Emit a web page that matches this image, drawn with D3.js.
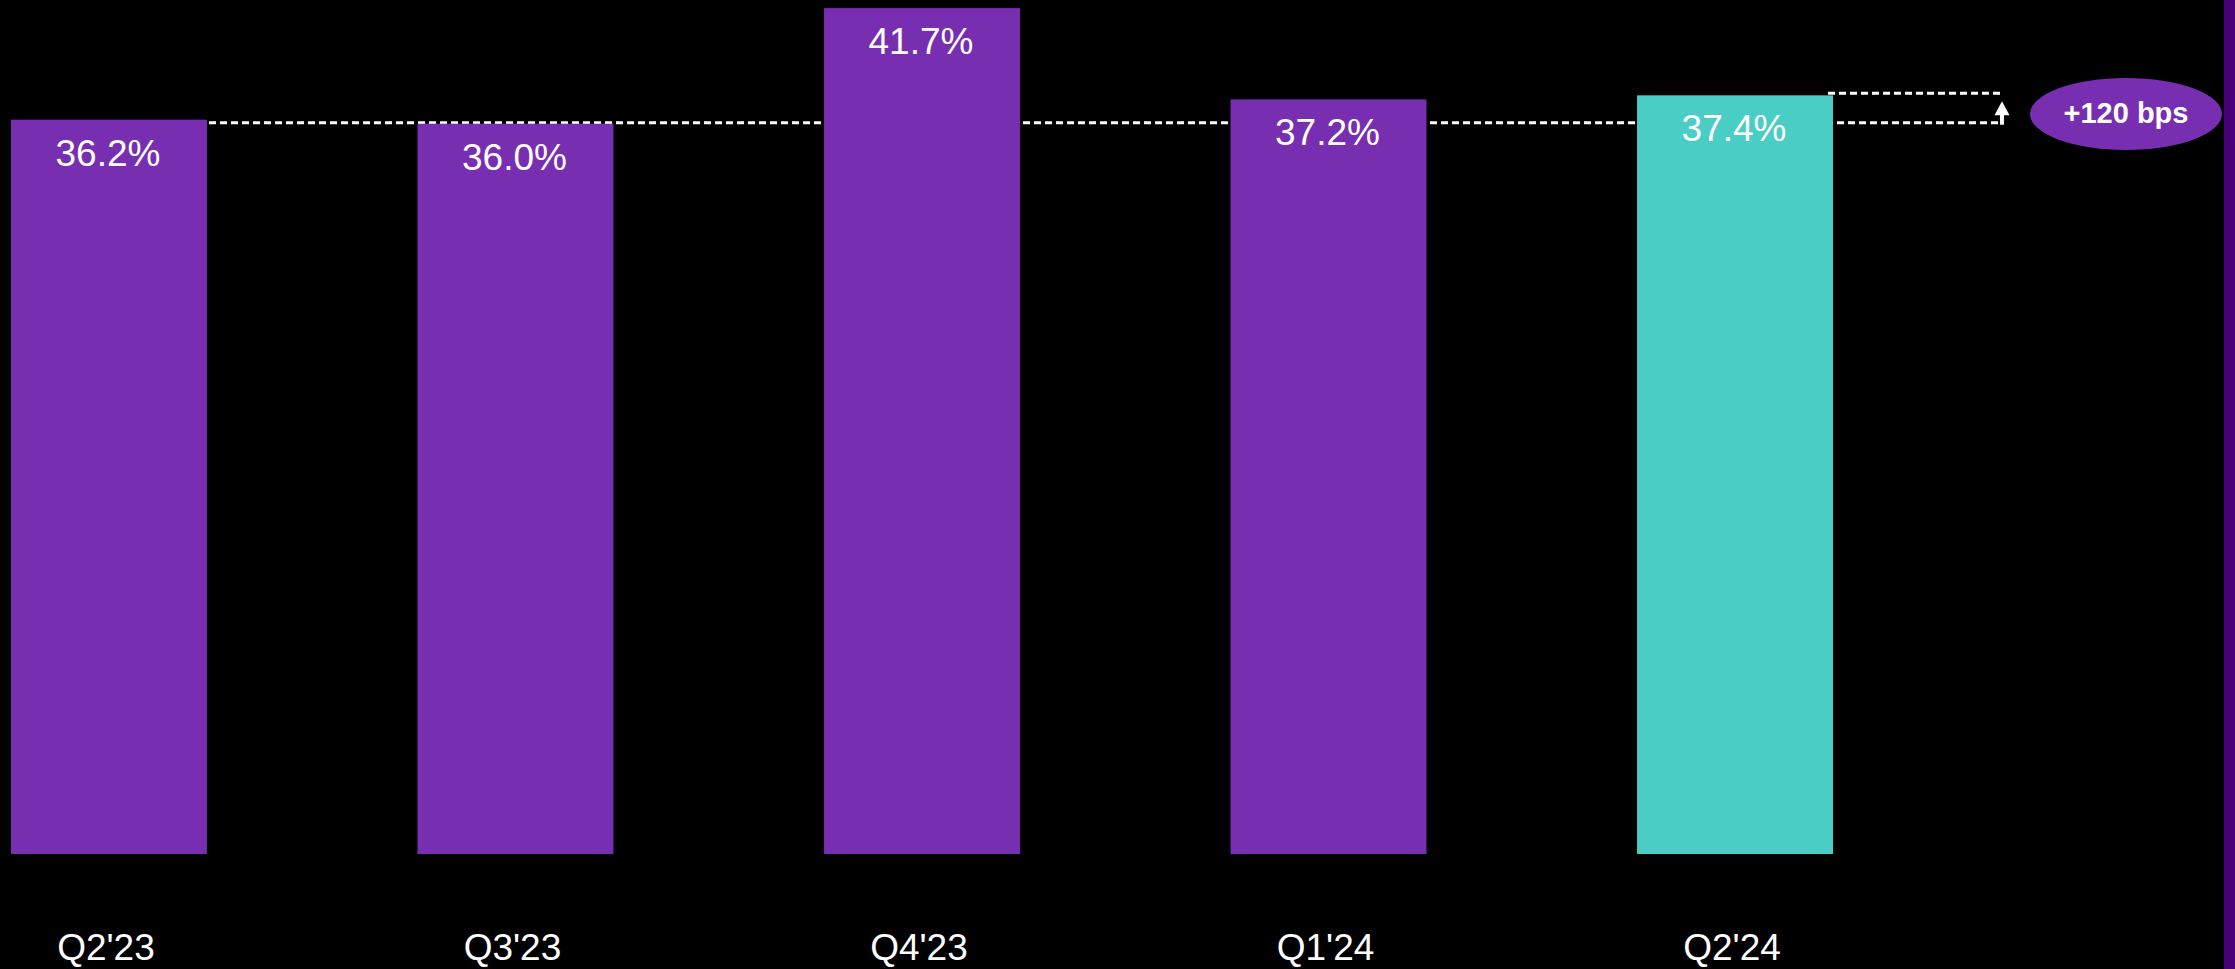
<!DOCTYPE html>
<html>
<head>
<meta charset="utf-8">
<script src="https://cdn.jsdelivr.net/npm/d3@7"></script>
<style>
  html, body { margin: 0; padding: 0; background: #000; }
  svg { display: block; font-family: Arial, "Liberation Sans", sans-serif; }
</style>
</head>
<body>
<svg id="chart" width="2235" height="969"></svg>
<script>
// data
const quarters = ["Q2'23", "Q3'23", "Q4'23", "Q1'24", "Q2'24"];
const margins = [36.2, 36.0, 41.7, 37.2, 37.4];
const valueLabels = ["36.2%", "36.0%", "41.7%", "37.2%", "37.4%"];
const changeLabel = "+120 bps";

const width = 2235, height = 969;
const purple = "#782eb1", teal = "#49cdc4";

const svg = d3.select("#chart");

const x = d3.scaleBand()
    .domain(quarters)
    .range([11, 1833])
    .paddingInner(0.518)
    .paddingOuter(0);

const y = d3.scaleLinear()
    .domain([0, 42.1])
    .range([854, 0]);

const first = margins[0], last = margins[margins.length - 1];
const refRight = 2003;

// reference dashed line at Q2'23 level (behind bars)
svg.append("line")
    .attr("x1", x(quarters[0]))
    .attr("x2", refRight)
    .attr("y1", y(first) + 3)
    .attr("y2", y(first) + 3)
    .attr("stroke", "#fff")
    .attr("stroke-width", 3)
    .attr("stroke-dasharray", "7,4");

// bars
svg.selectAll(".bar")
    .data(quarters)
    .enter().append("rect")
    .attr("class", "bar")
    .attr("x", d => x(d))
    .attr("y", (d, i) => y(margins[i]))
    .attr("width", x.bandwidth())
    .attr("height", (d, i) => y(0) - y(margins[i]))
    .attr("fill", (d, i) => i === quarters.length - 1 ? teal : purple);

// value labels inside bars
svg.selectAll(".val")
    .data(quarters)
    .enter().append("text")
    .attr("class", "val")
    .attr("x", d => x(d) + x.bandwidth() / 2 - 1)
    .attr("y", (d, i) => y(margins[i]) + 46)
    .attr("text-anchor", "middle")
    .attr("fill", "#fff")
    .attr("font-size", 37)
    .text((d, i) => valueLabels[i]);

// category labels
svg.selectAll(".cat")
    .data(quarters)
    .enter().append("text")
    .attr("class", "cat")
    .attr("x", d => x(d) + x.bandwidth() / 2 - 3)
    .attr("y", 960)
    .attr("text-anchor", "middle")
    .attr("fill", "#fff")
    .attr("font-size", 37)
    .text(d => d);

// upper dashed line at Q2'24 level
svg.append("line")
    .attr("x1", x(quarters[quarters.length - 1]) + x.bandwidth() - 5)
    .attr("x2", refRight)
    .attr("y1", y(last) - 2)
    .attr("y2", y(last) - 2)
    .attr("stroke", "#fff")
    .attr("stroke-width", 3)
    .attr("stroke-dasharray", "7,4");

// arrow
const ax = refRight - 1;
svg.append("line")
    .attr("x1", ax).attr("x2", ax)
    .attr("y1", y(first) + 5)
    .attr("y2", y(last) + 16)
    .attr("stroke", "#fff")
    .attr("stroke-width", 4);
svg.append("path")
    .attr("d", d3.line()([[ax - 7.5, y(last) + 20], [ax + 7.5, y(last) + 20], [ax, y(last) + 6]]) + "Z")
    .attr("fill", "#fff");

// change bubble
svg.append("ellipse")
    .attr("cx", 2126)
    .attr("cy", 114)
    .attr("rx", 96)
    .attr("ry", 36)
    .attr("fill", purple);
svg.append("text")
    .attr("x", 2126)
    .attr("y", 123)
    .attr("text-anchor", "middle")
    .attr("fill", "#fff")
    .attr("font-size", 29)
    .attr("font-weight", "bold")
    .text(changeLabel);

// right edge strip
svg.append("rect")
    .attr("x", 2224)
    .attr("y", 0)
    .attr("width", width - 2224)
    .attr("height", height)
    .attr("fill", "#46007a");
</script>
</body>
</html>
